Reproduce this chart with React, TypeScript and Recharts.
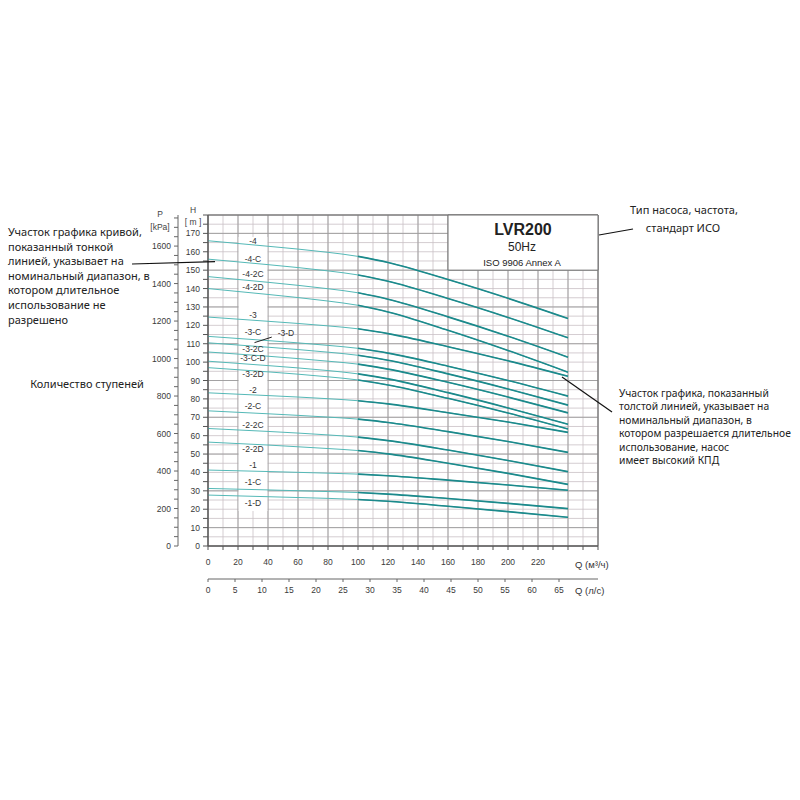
import React from 'react';
import {
  ComposedChart,
  Line,
  Scatter,
  XAxis,
  YAxis,
  CartesianGrid,
  ReferenceArea,
  ReferenceLine,
} from 'recharts';

// flow points, m3/h
const flowQ = [0, 40, 80, 100, 120, 160, 200, 240];

// head in m for each impeller set
const H_4 = [166, 163.0, 159.7, 157.5, 154.2, 144.9, 134.7, 123.7];
const H_4C = [156, 153.0, 149.6, 147.4, 144.0, 134.6, 124.3, 113.2];
const H_42C = [146.5, 143.4, 139.9, 137.7, 134.2, 124.6, 114.1, 102.7];
const H_42D = [140, 136.8, 133.2, 130.9, 127.3, 117.3, 106.3, 94.5];
const H_3 = [124.5, 122.2, 119.7, 118.1, 115.5, 108.4, 100.7, 92.3];
const H_3C = [114, 111.7, 109.1, 107.5, 104.9, 97.8, 90.0, 81.5];
const H_3D = [110.5, 108.1, 105.4, 103.7, 101.0, 93.6, 85.4, 76.6];
const H_32C = [105.5, 103.2, 100.5, 98.9, 96.2, 89.0, 81.0, 72.4];
const H_3CD = [100.5, 98.1, 95.4, 93.6, 90.9, 83.4, 75.1, 66.2];
const H_32D = [97, 94.7, 92.0, 90.3, 87.6, 80.3, 72.3, 63.6];
const H_2 = [83.3, 81.8, 80.1, 79.0, 77.3, 72.5, 67.4, 61.8];
const H_2C = [73.5, 71.9, 70.1, 69.0, 67.2, 62.2, 56.8, 50.9];
const H_22C = [63.9, 62.3, 60.4, 59.2, 57.3, 52.2, 46.5, 40.4];
const H_22D = [56.5, 54.9, 53.0, 51.9, 50.1, 45.0, 39.5, 33.5];
const H_1 = [41.3, 40.5, 39.6, 39.1, 38.2, 35.8, 33.2, 30.3];
const H_1C = [31.3, 30.5, 29.6, 29.1, 28.2, 25.8, 23.2, 20.3];
const H_1D = [27.7, 26.8, 25.9, 25.3, 24.3, 21.6, 18.7, 15.6];

const curveNames = [
  '-4', '-4-C', '-4-2C', '-4-2D', '-3', '-3-C', '-3-D', '-3-2C', '-3-C-D',
  '-3-2D', '-2', '-2-C', '-2-2C', '-2-2D', '-1', '-1-C', '-1-D',
];
const curveHeads = [
  H_4, H_4C, H_42C, H_42D, H_3, H_3C, H_3D, H_32C, H_3CD,
  H_32D, H_2, H_2C, H_22C, H_22D, H_1, H_1C, H_1D,
];

// curve labels (stage count)
const labelQ = [30, 30, 30, 30, 30, 30, 52, 30, 30, 30, 30, 30, 30, 30, 30, 30, 30];
const labelH = [
  166, 156.1, 147.9, 140.6, 125.5, 116.3, 115.7, 107.2, 102.3,
  93.3, 84.6, 76.0, 65.9, 52.6, 44, 34.6, 23.2,
];

// thick line (allowed continuous duty) begins here
const thickFrom = 100;

const qTicks = [0, 10, 20, 30, 40, 50, 60, 70, 80, 90, 100, 110, 120, 130, 140, 150, 160, 170, 180, 190, 200, 210, 220, 230, 240, 250, 260];
const qMajor = [0, 20, 40, 60, 80, 100, 120, 140, 160, 180, 200, 220, 240];
const lsTicks = [0, 5, 10, 15, 20, 25, 30, 35, 40, 45, 50, 55, 60, 65];
const hTicks = [0, 5, 10, 15, 20, 25, 30, 35, 40, 45, 50, 55, 60, 65, 70, 75, 80, 85, 90, 95, 100, 105, 110, 115, 120, 125, 130, 135, 140, 145, 150, 155, 160, 165, 170, 175, 180];
const hMajor = [0, 10, 20, 30, 40, 50, 60, 70, 80, 90, 100, 110, 120, 130, 140, 150, 160, 170];
const pTicks = [0, 50, 100, 150, 200, 250, 300, 350, 400, 450, 500, 550, 600, 650, 700, 750, 800, 850, 900, 950, 1000, 1050, 1100, 1150, 1200, 1250, 1300, 1350, 1400, 1450, 1500, 1550, 1600, 1650, 1700, 1750];

const leftNote = [
  'Участок графика кривой,',
  'показанный тонкой',
  'линией, указывает на',
  'номинальный диапазон, в',
  'котором длительное',
  'использование не',
  'разрешено',
];
const rightNote = [
  'Участок графика, показанный',
  'толстой линией, указывает на',
  'номинальный диапазон, в',
  'котором разрешается длительное',
  'использование, насос',
  'имеет высокий КПД',
];

const tableData = flowQ.map((q, i) => {
  const row: Record<string, number> = { q };
  curveHeads.forEach((hs, j) => {
    row[`t${j}`] = hs[i];
    if (q >= thickFrom) row[`k${j}`] = hs[i];
  });
  return row;
});

const labelData = curveNames.map((name, i) => ({ q: labelQ[i], h: labelH[i], name }));

const AXIS_FONT = '"Liberation Sans Narrow", "Liberation Sans", Arial, sans-serif';
const NOTE_FONT = '"Noto Sans", "Open Sans", sans-serif';
const THIN = '#55b9b7';
const THICK = '#1c898b';

const tickStyle = { fontSize: 8.5, fill: '#3a3a3a', fontFamily: AXIS_FONT };

const StageLabel = (props: any) => {
  const { cx, cy, payload } = props;
  return (
    <text
      x={cx}
      y={cy}
      textAnchor="middle"
      dominantBaseline="central"
      fontSize={8.5}
      fontFamily={AXIS_FONT}
      fill="#333"
    >
      {payload.name}
    </text>
  );
};

export default function App() {
  return (
    <div style={{ position: 'absolute', left: 0, top: 0, width: 800, height: 800, background: '#fff' }}>
      <ComposedChart
        width={800}
        height={800}
        data={tableData}
        margin={{ top: 215, right: 202, bottom: 191, left: 148 }}
      >
        <XAxis
          xAxisId="xa"
          type="number"
          dataKey="q"
          domain={[0, 260]}
          allowDataOverflow
          ticks={qTicks}
          interval={0}
          height={33}
          tickSize={4}
          tickMargin={9}
          stroke="#555"
          tick={tickStyle}
          tickFormatter={(v: number) => (v % 20 === 0 && v <= 220 ? String(v) : '')}
        />
        <XAxis
          xAxisId="xb"
          type="number"
          dataKey="q"
          domain={[0, 260 / 3.6]}
          allowDataOverflow
          ticks={lsTicks}
          interval={0}
          height={30}
          tickSize={3}
          tickMargin={5}
          stroke="#666"
          tick={tickStyle}
        />
        <XAxis xAxisId="xgrid" type="number" dataKey="q" domain={[0, 260]} allowDataOverflow ticks={qMajor} height={0} hide />
        <YAxis
          yAxisId="ya"
          type="number"
          domain={[0, 180]}
          allowDataOverflow
          ticks={hTicks}
          interval={0}
          width={30}
          tickSize={5}
          tickMargin={3}
          stroke="#555"
          tick={tickStyle}
          tickFormatter={(v: number) => (v % 10 === 0 && v <= 170 ? String(v) : '')}
        />
        <YAxis
          yAxisId="yb"
          type="number"
          domain={[0, 180 * 9.81]}
          allowDataOverflow
          ticks={pTicks}
          interval={0}
          width={30}
          tickSize={4}
          tickMargin={3}
          stroke="#666"
          tick={tickStyle}
          tickFormatter={(v: number) => (v % 200 === 0 && v <= 1600 ? String(v) : '')}
        />
        <YAxis yAxisId="ygrid" type="number" dataKey="t0" domain={[0, 180]} allowDataOverflow ticks={hMajor} width={0} hide />

        <CartesianGrid xAxisId="xa" yAxisId="ya" stroke="#c9c0c5" strokeWidth={0.8} />
        <CartesianGrid xAxisId="xgrid" yAxisId="ygrid" stroke="#9d9d9d" strokeWidth={0.9} />

        <ReferenceArea xAxisId="xa" yAxisId="ya" x1={20.4} x2={39.6} y1={19} y2={168} fill="#fff" fillOpacity={1} stroke="none" />
        <ReferenceArea xAxisId="xa" yAxisId="ya" x1={0} x2={260} y1={0} y2={180} fill="none" stroke="#6f6f6f" strokeWidth={1} />
        <ReferenceArea xAxisId="xa" yAxisId="ya" x1={160} x2={260} y1={150} y2={180} fill="#fff" fillOpacity={1} stroke="#6f6f6f" strokeWidth={1} />

        {curveNames.map((name, j) => (
          <Line
            key={`t${j}`}
            xAxisId="xa"
            yAxisId="ya"
            dataKey={`t${j}`}
            name={name}
            type="monotone"
            stroke={THIN}
            strokeWidth={1}
            dot={false}
            activeDot={false}
            isAnimationActive={false}
          />
        ))}
        {curveNames.map((name, j) => (
          <Line
            key={`k${j}`}
            xAxisId="xa"
            yAxisId="ya"
            dataKey={`k${j}`}
            name={name}
            type="monotone"
            stroke={THICK}
            strokeWidth={1.6}
            dot={false}
            activeDot={false}
            isAnimationActive={false}
          />
        ))}

        <ReferenceLine
          xAxisId="xa"
          yAxisId="ya"
          segment={[{ x: 31, y: 110.6 }, { x: 42.5, y: 113.6 }]}
          stroke="#222"
          strokeWidth={1}
        />
        <Scatter
          xAxisId="xa"
          yAxisId="ya"
          data={labelData}
          dataKey="h"
          shape={StageLabel}
          isAnimationActive={false}
        />
      </ComposedChart>

      <svg
        width={800}
        height={800}
        style={{ position: 'absolute', left: 0, top: 0, pointerEvents: 'none' }}
      >
        <g fontFamily={AXIS_FONT} fill="#444" fontSize={8.5} textAnchor="middle" dominantBaseline="central">
          <text x={160} y={214}>P</text>
          <text x={160} y={227}>[kPa]</text>
          <text x={193} y={210}>H</text>
          <text x={193} y={222}>[ m ]</text>
        </g>
        <g fontFamily={AXIS_FONT} fill="#333" fontSize={9.5} dominantBaseline="central">
          <text x={575} y={564}>Q (м³/ч)</text>
          <text x={575} y={590}>Q (л/с)</text>
        </g>
        <g fontFamily='"Liberation Sans", Arial, sans-serif' fill="#222" textAnchor="middle" dominantBaseline="central">
          <text x={523} y={229} fontSize={16} fontWeight="bold">LVR200</text>
          <text x={522} y={247} fontSize={12}>50Hz</text>
          <text x={522} y={262} fontSize={9.5}>ISO 9906 Annex A</text>
        </g>

        <g fontFamily={NOTE_FONT} fill="#222" dominantBaseline="central">
          <g fontSize={11}>
            {leftNote.map((s, i) => (
              <text key={s} x={8} y={231.5 + i * 14.6}>{s}</text>
            ))}
            <text x={87} y={383} textAnchor="middle">Количество ступеней</text>
            <text x={684} y={209} textAnchor="middle">Тип насоса, частота,</text>
            <text x={683} y={227} textAnchor="middle">стандарт ИСО</text>
          </g>
          <g fontSize={10.3}>
            {rightNote.map((s, i) => (
              <text key={s} x={619} y={393 + i * 13.4}>{s}</text>
            ))}
          </g>
        </g>

        <g stroke="#111" strokeWidth={1.2}>
          <line x1={132} y1={264} x2={215} y2={261.7} />
          <line x1={599} y1={235} x2={633} y2={229} />
          <line x1={562} y1={377} x2={612} y2={412} />
        </g>
      </svg>
    </div>
  );
}
